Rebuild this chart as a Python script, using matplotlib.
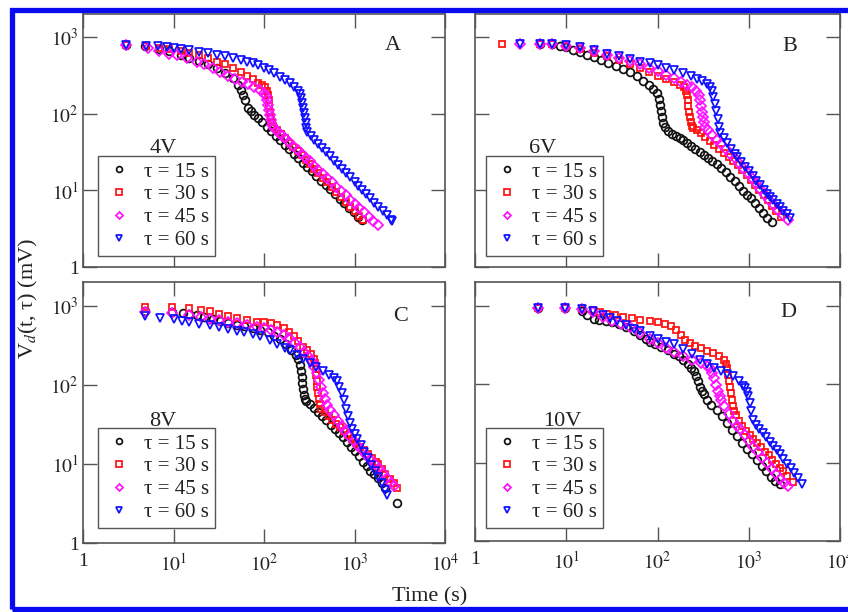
import matplotlib
matplotlib.use('Agg')
import matplotlib.pyplot as plt
from matplotlib.patches import Rectangle
from matplotlib.ticker import NullLocator, FixedLocator

plt.rcParams['font.family'] = ['Liberation Serif', 'DejaVu Serif']
plt.rcParams['mathtext.fontset'] = 'stix'

# ---------------- data ----------------
series_labels = ['τ = 15 s', 'τ = 30 s', 'τ = 45 s', 'τ = 60 s']
voltages = ['4V', '6V', '8V', '10V']
panel_letters = ['A', 'B', 'C', 'D']
x_tick_values = [1, 10, 100, 1000, 10000]
x_tick_labels = ['1', r'$10^{1}$', r'$10^{2}$', r'$10^{3}$', r'$10^{4}$']
y_tick_values = [1, 10, 100, 1000]
y_tick_labels = ['1', r'$10^{1}$', r'$10^{2}$', r'$10^{3}$']

# Panel A (4V)
A_t15 = [3, 4.8, 7, 9, 12, 15, 19, 24, 30, 37, 45, 52, 56, 59, 62, 66, 72, 78, 85, 95, 107, 120, 135, 150, 170, 190, 215, 240, 270, 300, 340, 380, 430, 480, 540, 610, 690, 770, 870, 980, 1100, 1200]
A_v15 = [780, 770, 700, 650, 590, 540, 490, 440, 390, 340, 290, 240, 205, 178, 150, 118, 107, 97, 88, 77, 67, 59, 51.5, 45.5, 39.4, 34.6, 30, 26.4, 23, 20.4, 17.7, 15.5, 13.4, 11.8, 10.3, 8.95, 7.74, 6.84, 5.92, 5.16, 4.52, 4.08]
A_t30 = [3, 5, 7, 9, 12, 15, 19, 24, 30, 37, 45, 55, 65, 75, 85, 95, 103, 108, 111, 113, 115, 117, 119, 122, 126, 140, 155, 170, 190, 210, 235, 260, 290, 320, 360, 400, 450, 500, 560, 630, 710, 800, 900, 1000, 1120, 1250]
A_v30 = [780, 770, 730, 700, 660, 620, 580, 530, 480, 440, 400, 350, 310, 280, 255, 235, 220, 200, 175, 150, 125, 105, 90, 78, 70, 61.4, 54.2, 48.3, 42, 37.2, 32.3, 28.5, 24.9, 22.1, 19.1, 16.8, 14.5, 12.7, 11, 9.55, 8.24, 7.11, 6.15, 5.4, 4.69, 4.09]
A_t45 = [3, 5.2, 7, 9, 11, 14, 18, 22, 27, 33, 40, 48, 57, 67, 78, 90, 100, 104, 107, 110, 113, 116, 120, 124, 128, 140, 155, 170, 190, 210, 235, 260, 290, 320, 360, 400, 450, 500, 560, 630, 710, 800, 900, 1000, 1130, 1270, 1430, 1600, 1800]
A_v45 = [780, 720, 650, 610, 580, 530, 480, 440, 395, 350, 315, 285, 262, 245, 225, 205, 188, 170, 150, 130, 112, 96, 82, 72, 66, 59.7, 53.3, 48.2, 42.5, 38.1, 33.6, 30.0, 26.6, 23.9, 20.9, 18.6, 16.3, 14.5, 12.8, 11.2, 9.85, 8.62, 7.57, 6.73, 5.88, 5.16, 4.53, 3.99, 3.51]
A_t60 = [3, 5, 6.7, 8.5, 10, 12, 15, 19, 24, 30, 37, 45, 55, 65, 75, 85, 100, 115, 130, 150, 170, 195, 215, 240, 250, 258, 264, 270, 276, 282, 288, 294, 300, 330, 360, 400, 440, 490, 540, 600, 660, 730, 810, 900, 1000, 1100, 1220, 1350, 1500, 1660, 1840, 2040, 2260, 2500, 2600]
A_v60 = [780, 770, 760, 740, 720, 700, 670, 640, 615, 590, 560, 535, 505, 480, 460, 435, 400, 370, 340, 305, 275, 250, 225, 200, 180, 160, 140, 120, 102, 88, 75, 65, 58, 51.1, 46, 40.3, 35.9, 31.4, 27.9, 24.4, 21.7, 19.2, 16.8, 14.8, 12.9, 11.5, 10.1, 8.93, 7.83, 6.92, 6.08, 5.35, 4.71, 4.15, 3.96]

# Panel B (6V)
B_t15 = [5.2, 7, 8.5, 10, 12, 14, 17, 20, 24, 29, 35, 42, 50, 60, 70, 80, 90, 98, 103, 107, 110, 113, 116, 120, 130, 145, 160, 175, 190, 210, 235, 260, 290, 320, 360, 400, 450, 500, 560, 630, 700, 780, 870, 960, 1050, 1160, 1280, 1420, 1580, 1800]
B_v15 = [808, 800, 770, 740, 680, 630, 590, 545, 500, 460, 420, 385, 350, 310, 270, 240, 210, 185, 155, 130, 108, 90, 76, 67, 60, 55, 51, 48, 45, 41.5, 38, 34.5, 31.5, 29, 26.3, 24.3, 22, 19.8, 17.3, 15, 13.2, 11.4, 9.8, 8.8, 7.9, 6.9, 5.9, 5.0, 4.4, 3.9]
B_t30 = [2, 5.2, 7, 10, 14, 20, 28, 38, 50, 65, 80, 100, 125, 150, 175, 195, 205, 210, 214, 218, 222, 226, 230, 236, 245, 270, 300, 335, 375, 420, 470, 530, 600, 680, 760, 850, 950, 1060, 1180, 1310, 1460, 1620, 1800, 2000, 2250]
B_v30 = [810, 808, 805, 760, 700, 620, 560, 500, 440, 390, 350, 310, 280, 260, 240, 220, 200, 175, 150, 125, 105, 90, 78, 70, 66, 61, 55.5, 50, 44.5, 39.5, 35, 31, 27.5, 24.5, 21.3, 18.4, 15.9, 13.7, 11.8, 10.2, 8.7, 7.4, 6.3, 5.4, 4.5]
B_t45 = [3.1, 5.2, 7, 10, 14, 20, 28, 38, 50, 65, 80, 100, 125, 150, 180, 210, 240, 265, 285, 292, 298, 305, 312, 320, 330, 360, 400, 450, 500, 560, 630, 700, 780, 870, 970, 1080, 1200, 1340, 1500, 1680, 1880, 2100, 2400, 2700]
B_v45 = [810, 808, 805, 770, 720, 650, 590, 540, 490, 440, 400, 360, 320, 290, 260, 240, 220, 200, 175, 150, 125, 105, 90, 78, 68, 61, 53, 45.5, 40, 35, 30, 26.5, 23, 19.8, 17, 14.5, 12.4, 10.5, 8.8, 7.5, 6.4, 5.5, 4.7, 4.1]
B_t60 = [3.1, 5.2, 7, 10, 14, 20, 28, 38, 50, 65, 83, 100, 125, 150, 190, 230, 270, 310, 350, 380, 395, 410, 425, 440, 455, 470, 490, 530, 580, 640, 700, 745, 830, 910, 1000, 1100, 1210, 1330, 1460, 1600, 1700, 1850, 2020, 2200, 2400, 2600, 2850]
B_v60 = [810, 808, 805, 780, 740, 680, 610, 560, 520, 480, 455, 430, 400, 370, 335, 310, 285, 265, 245, 220, 195, 165, 135, 108, 85, 68, 55.7, 48.6, 41.6, 35, 30, 27, 23.1, 20.2, 17.7, 15.4, 13.4, 11.7, 10.2, 8.97, 8.2, 7.4, 6.65, 6.0, 5.4, 4.9, 4.35]

# Panel C (8V)
C_t15 = [4.8, 9.6, 12.7, 15, 18, 22, 27, 33, 40, 50, 60, 75, 90, 110, 130, 150, 175, 200, 225, 240, 248, 254, 260, 265, 270, 276, 282, 290, 320, 355, 395, 440, 490, 545, 605, 670, 740, 820, 910, 1000, 1110, 1230, 1360, 1500, 1650, 1800, 2000, 2200, 2950]
C_v15 = [850, 830, 800, 790, 770, 720, 680, 640, 610, 580, 560, 530, 500, 460, 420, 380, 330, 280, 240, 210, 180, 150, 125, 105, 88, 75, 66, 62, 56.5, 50.5, 45, 40, 35.5, 31, 27.5, 24.3, 22, 19.2, 16.6, 14.5, 12.5, 10.7, 9.3, 8.2, 7.4, 6.6, 5.7, 5.0, 3.2]
C_t30 = [4.8, 9.6, 15, 20, 25, 32, 40, 50, 65, 83, 100, 120, 140, 165, 190, 215, 240, 270, 300, 330, 355, 365, 372, 378, 384, 390, 397, 405, 415, 430, 470, 520, 570, 630, 690, 760, 840, 930, 1030, 1140, 1260, 1400, 1550, 1720, 1800, 2000, 2200, 2450, 2700, 2950]
C_v30 = [975, 960, 930, 890, 850, 790, 740, 700, 660, 630, 615, 600, 575, 520, 460, 410, 360, 305, 275, 245, 215, 190, 160, 135, 112, 93, 78, 66, 57, 50, 45.5, 40.5, 36, 32, 29, 26, 23.4, 20.9, 18.6, 16.6, 14.9, 13.2, 11.8, 10.5, 10.0, 8.6, 7.55, 6.5, 5.67, 5.0]
C_t45 = [4.8, 9.6, 15, 20, 25, 32, 40, 50, 65, 83, 100, 120, 140, 165, 190, 220, 250, 280, 310, 335, 360, 385, 405, 425, 445, 470, 500, 540, 590, 650, 720, 790, 880, 980, 1090, 1210, 1350, 1500, 1670, 1850, 2050, 2270, 2500, 2700]
C_v45 = [830, 800, 760, 720, 690, 660, 630, 600, 570, 540, 520, 495, 470, 430, 390, 340, 300, 260, 230, 200, 170, 140, 115, 95, 80, 66, 56, 48, 41, 35, 30, 26, 22.5, 19.5, 17, 15, 13.1, 11.5, 10.1, 8.8, 7.6, 6.6, 5.8, 5.2]
C_t60 = [4.8, 7.1, 10, 12.5, 15, 19, 25, 32, 40, 50, 60, 75, 90, 116, 140, 170, 195, 230, 270, 320, 380, 450, 520, 590, 640, 680, 720, 760, 800, 840, 890, 940, 1000, 1070, 1170, 1280, 1400, 1530, 1670, 1820, 1990, 2170, 2300]
C_v60 = [750, 700, 680, 650, 620, 595, 575, 540, 510, 480, 460, 440, 420, 370, 330, 295, 275, 240, 215, 190, 170, 150, 135, 122, 112, 95, 80, 64, 50, 40, 33, 28, 24, 20.8, 17.3, 14.3, 11.8, 9.8, 8.2, 6.8, 5.66, 4.7, 4.1]

# Panel D (10V)
D_t15 = [4.9, 9.7, 14.9, 17, 20, 23, 27, 32, 38, 45, 55, 65, 75, 83, 95, 110, 130, 150, 170, 190, 215, 235, 250, 262, 275, 290, 305, 320, 350, 390, 450, 510, 580, 660, 750, 850, 960, 1080, 1220, 1380, 1550, 1750, 1950, 2200]
D_v15 = [940, 930, 850, 760, 680, 650, 630, 615, 580, 530, 470, 420, 380, 345, 320, 295, 270, 245, 225, 205, 180, 160, 145, 125, 108, 93, 82, 74, 63, 54, 47, 39, 32, 26, 21.5, 18, 15, 12.7, 10.7, 9.0, 7.7, 6.6, 5.9, 5.3]
D_t30 = [4.9, 9.7, 14.9, 19.6, 23.5, 28, 34, 42, 52, 65, 83, 100, 120, 140, 160, 180, 200, 225, 260, 300, 350, 410, 470, 530, 560, 580, 594, 610, 625, 640, 655, 670, 685, 720, 780, 850, 930, 1020, 1120, 1230, 1360, 1500, 1650, 1820, 2000, 2200, 2385, 2650, 3050]
D_v30 = [940, 930, 910, 880, 830, 790, 760, 720, 690, 665, 635, 610, 580, 545, 490, 420, 365, 330, 305, 285, 265, 248, 225, 200, 180, 160, 130, 110, 92, 76, 62, 52, 45, 40, 34, 29, 25.5, 22.5, 20, 17.8, 15.7, 13.8, 12.3, 10.8, 9.6, 8.5, 7.7, 6.8, 5.7]
D_t45 = [4.9, 9.7, 14.9, 19.6, 25, 32, 40, 50, 65, 83, 100, 125, 150, 190, 240, 300, 350, 380, 400, 420, 440, 460, 480, 500, 540, 600, 670, 740, 800, 900, 1000, 1120, 1250, 1400, 1600, 1800, 2000, 2200, 2450, 2700]
D_v45 = [940, 930, 900, 820, 720, 640, 590, 530, 450, 370, 330, 290, 260, 225, 200, 185, 170, 160, 140, 118, 98, 82, 70, 62, 52, 42, 34, 29.5, 27, 22.5, 19, 16, 13.5, 11.3, 9.8, 8.3, 7.1, 6.2, 5.5, 5.0]
D_t60 = [4.9, 9.7, 14.9, 19.6, 25, 30, 36, 45, 55, 65, 83, 100, 125, 150, 190, 240, 290, 350, 420, 500, 580, 680, 780, 870, 920, 960, 990, 1020, 1060, 1117, 1200, 1300, 1420, 1550, 1700, 1853, 2020, 2200, 2400, 2630, 2880, 3150, 3450, 3850]
D_v60 = [940, 930, 900, 850, 760, 700, 640, 570, 510, 470, 410, 375, 345, 320, 280, 240, 205, 180, 162, 148, 135, 125, 108, 94, 88, 80, 70, 58, 45, 35, 30, 26.8, 23.7, 21, 18.5, 16.4, 14.4, 12.7, 11.1, 9.7, 8.4, 7.4, 6.4, 5.4]

panel_data = [
    [(A_t15, A_v15), (A_t30, A_v30), (A_t45, A_v45), (A_t60, A_v60)],
    [(B_t15, B_v15), (B_t30, B_v30), (B_t45, B_v45), (B_t60, B_v60)],
    [(C_t15, C_v15), (C_t30, C_v30), (C_t45, C_v45), (C_t60, C_v60)],
    [(D_t15, D_v15), (D_t30, D_v30), (D_t45, D_v45), (D_t60, D_v60)],
]

# ---------------- styles ----------------
colors = ['#111111', '#ff1010', '#ff10ff', '#1010ff']
markers = ['o', 's', 'D', 'v']
msizes = [5.6, 5.0, 4.8, 5.8]
spine_col = '#555555'

W, H = 848, 612
def rect(l, t, r, b):
    return [l / W, 1 - b / H, (r - l) / W, (b - t) / H]

positions = [rect(83, 14, 445, 267), rect(475, 14, 840, 267),
             rect(83, 282, 445, 543), rect(475, 282, 840, 541)]
legend_anchor = [(0.041, 0.043), (0.030, 0.043), (0.041, 0.057), (0.030, 0.050)]
volt_pos = [(0.221, 0.47), (0.184, 0.47), (0.221, 0.464), (0.238, 0.46)]
letter_pos = [(0.857, 0.877), (0.863, 0.87), (0.876, 0.866), (0.858, 0.884)]

fig = plt.figure(figsize=(8.48, 6.12), dpi=100)

for i in range(4):
    ax = fig.add_axes(positions[i])
    for j in range(4):
        t, v = panel_data[i][j]
        ax.plot(t, v, linestyle='none', marker=markers[j], mfc='none',
                mec=colors[j], ms=msizes[j], mew=1.25, label=series_labels[j])
    ax.set_xscale('log')
    ax.set_yscale('log')
    ax.set_xlim(1, 1e4)
    ax.set_ylim(1, 2000)
    ax.xaxis.set_major_locator(FixedLocator(x_tick_values))
    ax.yaxis.set_major_locator(FixedLocator(y_tick_values))
    ax.xaxis.set_minor_locator(NullLocator())
    ax.yaxis.set_minor_locator(NullLocator())
    ax.tick_params(which='major', direction='in', top=True, right=True,
                   length=10, width=1.0, color=spine_col, labelsize=14,
                   labelcolor='#222222')
    ax.tick_params(axis='x', pad=7)
    ax.tick_params(axis='y', pad=3)
    if i >= 2:
        ax.set_xticklabels(x_tick_labels)
    else:
        ax.set_xticklabels([])
    if i % 2 == 0:
        ax.set_yticklabels(y_tick_labels)
    else:
        ax.set_yticklabels([])
    for s in ax.spines.values():
        s.set_color(spine_col)
        s.set_linewidth(1.2)

    leg = ax.legend(loc='lower left', bbox_to_anchor=legend_anchor[i],
                    borderaxespad=0, frameon=True, fancybox=False,
                    edgecolor=spine_col, framealpha=1, fontsize=15,
                    handlelength=1.4, handletextpad=0.5, labelspacing=0.15,
                    borderpad=0.3, markerscale=0.75, numpoints=1)
    leg.get_frame().set_linewidth(1.0)
    for txt in leg.get_texts():
        txt.set_color('#222222')

    ax.text(volt_pos[i][0], volt_pos[i][1], voltages[i], transform=ax.transAxes,
            ha='center', va='center', fontsize=16, color='#222222')
    ax.text(letter_pos[i][0], letter_pos[i][1], panel_letters[i], transform=ax.transAxes,
            ha='center', va='center', fontsize=16, color='#222222')

fig.text(430 / W, 1 - 597 / H, 'Time (s)', ha='center', va='center',
         fontsize=16, color='#222222')
fig.text(28 / W, 1 - 298 / H, r'V$_{d}$(t, τ) (mV)', ha='center', va='center',
         rotation=90, fontsize=16, color='#222222')

border = Rectangle((12 / W, 1 - 609 / H), (W + 10 - 12) / W, (609 - 10) / H,
                   transform=fig.transFigure, fill=False, edgecolor='#0a0af0',
                   linewidth=3.8, clip_on=False)
fig.patches.append(border)

fig.savefig('out.png', dpi=100)
